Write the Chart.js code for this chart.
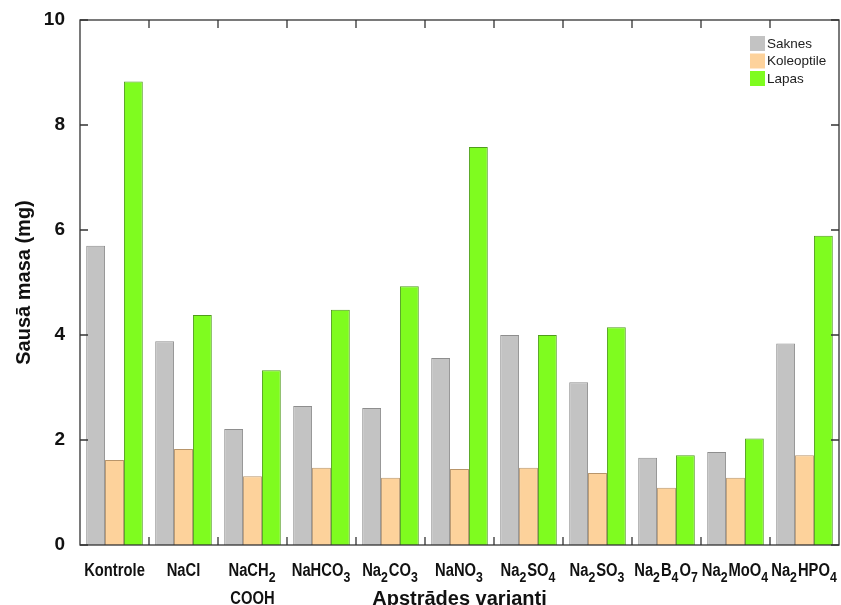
<!DOCTYPE html>
<html>
<head>
<meta charset="utf-8">
<script src="https://cdn.jsdelivr.net/npm/chart.js@4.4.1/dist/chart.umd.min.js"></script>
<style>
  html, body { margin: 0; padding: 0; background: #fff; }
  #wrap { width: 841px; height: 605px; }
</style>
</head>
<body>
<div id="wrap"><canvas id="c" width="841" height="605"></canvas></div>
<script>
// apstrādes varianti (subscript digits kept as unicode)
const categories = ['Kontrole', 'NaCl', ['NaCH₂', 'COOH'], 'NaHCO₃', 'Na₂CO₃', 'NaNO₃',
                    'Na₂SO₄', 'Na₂SO₃', 'Na₂B₄O₇', 'Na₂MoO₄', 'Na₂HPO₄'];
const seriesNames = ['Saknes', 'Koleoptile', 'Lapas'];
const saknes     = [5.70, 3.88, 2.21, 2.65, 2.61, 3.56, 4.00, 3.10, 1.66, 1.77, 3.84];
const koleoptile = [1.62, 1.83, 1.31, 1.47, 1.28, 1.45, 1.47, 1.37, 1.09, 1.28, 1.71];
const lapas      = [8.83, 4.38, 3.33, 4.48, 4.93, 7.58, 4.00, 4.15, 1.71, 2.03, 5.89];
const yTicks = [0, 2, 4, 6, 8, 10];

const FILL   = ['#c3c3c3', '#fdd29b', '#7ffc1f'];
const STROKE = ['#8e8e8e', '#b8956a', '#4f9c1c'];
const INK = '#111';
const SANS = "'Liberation Sans', Arial, sans-serif";
const NARROW = 0.82;   // Arial Narrow = Arial squeezed horizontally
const SUBS = '₀₁₂₃₄₅₆₇₈₉';

function splitSub(s) {
  const parts = [];
  for (const ch of s) {
    const k = SUBS.indexOf(ch);
    const sub = k >= 0;
    const t = sub ? String(k) : ch;
    const last = parts[parts.length - 1];
    if (last && last.sub === sub) last.t += t; else parts.push({ t, sub });
  }
  return parts;
}

function drawChem(ctx, text, cx, base) {
  const main = 'bold 18px ' + SANS;
  const small = 'bold 15px ' + SANS;
  const parts = splitSub(text);
  let w = 0;
  parts.forEach(p => {
    ctx.font = p.sub ? small : main;
    p.w = ctx.measureText(p.t).width * NARROW + (p.sub ? 1 : 0);
    w += p.w;
  });
  let x = cx - w / 2;
  parts.forEach(p => {
    ctx.save();
    ctx.font = p.sub ? small : main;
    ctx.translate(x, p.sub ? base + 6 : base);
    ctx.scale(NARROW, 1);
    ctx.fillText(p.t, 0, 0);
    ctx.restore();
    x += p.w;
  });
}

const framePlugin = {
  id: 'frame',
  afterDraw(chart) {
    const { ctx, chartArea: a, scales: { x, y } } = chart;
    ctx.save();
    ctx.strokeStyle = '#333';
    ctx.lineWidth = 1.3;
    ctx.strokeRect(a.left, a.top, a.right - a.left, a.bottom - a.top);

    // inward ticks
    ctx.beginPath();
    y.ticks.forEach(t => {
      const py = y.getPixelForValue(t.value);
      ctx.moveTo(a.left, py); ctx.lineTo(a.left + 8, py);
      ctx.moveTo(a.right, py); ctx.lineTo(a.right - 8, py);
    });
    for (let i = 0; i < categories.length - 1; i++) {
      const px = (x.getPixelForValue(i) + x.getPixelForValue(i + 1)) / 2;
      ctx.moveTo(px, a.bottom); ctx.lineTo(px, a.bottom - 8);
      ctx.moveTo(px, a.top); ctx.lineTo(px, a.top + 8);
    }
    ctx.stroke();

    // category labels with subscripts
    ctx.fillStyle = INK;
    ctx.textAlign = 'left';
    ctx.textBaseline = 'alphabetic';
    categories.forEach((lab, i) => {
      const cx = x.getPixelForValue(i);
      const lines = Array.isArray(lab) ? lab : [lab];
      lines.forEach((ln, j) => drawChem(ctx, ln, cx, a.bottom + 31 + j * 28));
    });

    // legend
    const lx = a.right - 89, ly = a.top + 16;
    ctx.font = '13.5px ' + SANS;
    ctx.textBaseline = 'middle';
    chart.data.datasets.forEach((ds, i) => {
      const by = ly + i * 17.5;
      ctx.fillStyle = ds.backgroundColor;
      ctx.fillRect(lx, by, 15, 15);
      ctx.fillStyle = '#222';
      ctx.fillText(ds.label, lx + 17, by + 8);
    });
    ctx.restore();
  }
};

const datasets = [saknes, koleoptile, lapas].map((d, i) => ({
  label: seriesNames[i],
  data: d,
  backgroundColor: FILL[i],
  borderColor: STROKE[i],
  borderWidth: 1,
  categoryPercentage: 0.82,
  barPercentage: 1.0,
}));

new Chart(document.getElementById('c'), {
  type: 'bar',
  data: { labels: categories, datasets },
  options: {
    responsive: false,
    animation: false,
    layout: { padding: { top: 20, right: 2, left: 0, bottom: 0 } },
    plugins: {
      legend: { display: false },
      tooltip: { enabled: true },
    },
    scales: {
      x: {
        grid: { display: false },
        border: { display: false },
        ticks: { display: false },
        afterFit: s => { s.height = 60; },
        title: {
          display: true,
          text: 'Apstrādes varianti',
          color: INK,
          font: { family: SANS, size: 20, weight: 'bold' },
          padding: { top: 0, bottom: -6 },
        },
      },
      y: {
        min: 0,
        max: 10,
        grid: { display: false },
        border: { display: false },
        afterBuildTicks: s => { s.ticks = yTicks.map(v => ({ value: v })); },
        afterFit: s => { s.width = 80; },
        ticks: {
          color: INK,
          padding: 7,
          font: { family: SANS, size: 19, weight: 'bold' },
        },
        title: {
          display: true,
          text: 'Sausā masa (mg)',
          color: INK,
          font: { family: SANS, size: 20, weight: 'bold' },
          padding: { top: 12, bottom: 0 },
        },
      },
    },
  },
  plugins: [framePlugin],
});
</script>
</body>
</html>
